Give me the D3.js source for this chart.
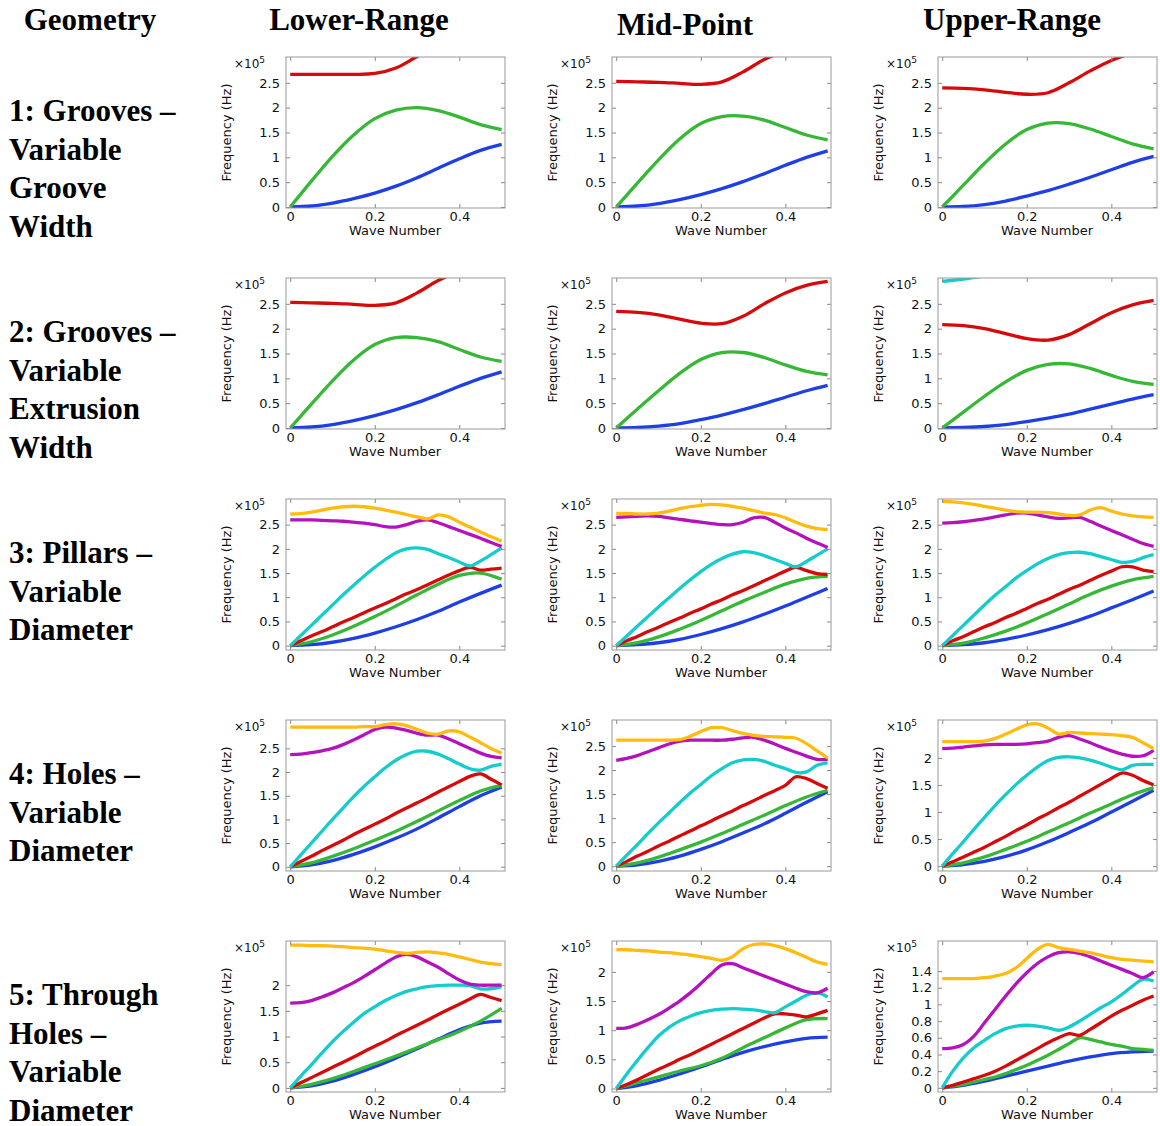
<!DOCTYPE html>
<html>
<head>
<meta charset="utf-8">
<title>Band diagrams</title>
<script src="https://cdn.jsdelivr.net/npm/d3@7"></script>
<style>
  body { margin: 0; background: #fff; }
  .head { font-family: "Liberation Serif", "Times New Roman", serif; font-weight: bold; font-size: 31px; fill: #000; }
  .tick text, .lab { font-family: "DejaVu Sans", sans-serif; fill: #111; }
</style>
</head>
<body>
<svg id="chart" width="1160" height="1126"></svg>
<script>
// wave number samples: coarse grid (11 values) and fine grid (21 values)
var waveNumber = [0, 0.05, 0.1, 0.15, 0.2, 0.25, 0.3, 0.35, 0.4, 0.45, 0.5]
var waveNumberFine = [0, 0.025, 0.05, 0.075, 0.1, 0.125, 0.15, 0.175, 0.2, 0.225, 0.25,
  0.275, 0.3, 0.325, 0.35, 0.375, 0.4, 0.425, 0.45, 0.475, 0.5]

var columnTitles = ["Lower-Range", "Mid-Point", "Upper-Range"]
var rowTitles = [
  ["1: Grooves –", "Variable", "Groove", "Width"],
  ["2: Grooves –", "Variable", "Extrusion", "Width"],
  ["3: Pillars –", "Variable", "Diameter"],
  ["4: Holes –", "Variable", "Diameter"],
  ["5: Through", "Holes –", "Variable", "Diameter"]
]

// frequencies in units of 1e5 Hz
var grooveWidthLower = {
  blue:  [0, 0.02, 0.08, 0.17, 0.28, 0.42, 0.59, 0.78, 0.97, 1.14, 1.26],
  green: [0, 0.52, 1.02, 1.45, 1.78, 1.95, 2.0, 1.94, 1.81, 1.66, 1.56],
  red:   [2.67, 2.67, 2.67, 2.67, 2.69, 2.8, 3.03, 3.25, 3.45, 3.6, 3.7]
}
var grooveWidthMid = {
  blue:  [0, 0.02, 0.07, 0.15, 0.25, 0.37, 0.51, 0.67, 0.84, 1.0, 1.13],
  green: [0, 0.48, 0.95, 1.37, 1.68, 1.82, 1.83, 1.75, 1.6, 1.45, 1.35],
  red:   [2.53, 2.52, 2.51, 2.49, 2.47, 2.52, 2.72, 2.97, 3.15, 3.3, 3.4]
}
var grooveWidthUpper = {
  blue:  [0, 0.01, 0.05, 0.12, 0.22, 0.33, 0.46, 0.6, 0.75, 0.9, 1.02],
  green: [0, 0.44, 0.88, 1.27, 1.56, 1.69, 1.68, 1.57, 1.42, 1.27, 1.17],
  red:   [2.4, 2.39, 2.36, 2.31, 2.27, 2.3, 2.5, 2.74, 2.95, 3.1, 3.2]
}
var extrusionLower = {
  blue:  [0, 0.02, 0.07, 0.15, 0.25, 0.37, 0.51, 0.67, 0.84, 1.0, 1.13],
  green: [0, 0.48, 0.95, 1.37, 1.68, 1.82, 1.82, 1.74, 1.58, 1.43, 1.34],
  red:   [2.53, 2.52, 2.51, 2.49, 2.47, 2.52, 2.72, 2.97, 3.15, 3.3, 3.4]
}
var extrusionMid = {
  blue:  [0, 0.01, 0.04, 0.09, 0.17, 0.26, 0.37, 0.49, 0.62, 0.75, 0.86],
  green: [0, 0.38, 0.75, 1.1, 1.38, 1.52, 1.52, 1.42, 1.27, 1.14, 1.07],
  red:   [2.35, 2.33, 2.28, 2.19, 2.11, 2.1, 2.25, 2.5, 2.72, 2.87, 2.95]
}
var extrusionUpper = {
  blue:  [0, 0.01, 0.03, 0.07, 0.13, 0.2, 0.28, 0.38, 0.48, 0.58, 0.67],
  green: [0, 0.32, 0.64, 0.93, 1.16, 1.28, 1.29, 1.2, 1.06, 0.94, 0.88],
  red:   [2.08, 2.06, 2.0, 1.9, 1.8, 1.77, 1.88, 2.1, 2.32, 2.48, 2.57],
  cyan:  [2.95, 3.0, 3.06]
}
var pillarsLower = {
  blue:    [0, 0.02, 0.07, 0.15, 0.26, 0.39, 0.54, 0.71, 0.9, 1.08, 1.25],
  green:   [0, 0.08, 0.22, 0.4, 0.6, 0.82, 1.05, 1.27, 1.45, 1.5, 1.37],
  red:     [0, 0.1, 0.2, 0.29, 0.39, 0.49, 0.58, 0.68, 0.78, 0.87, 0.97, 1.07, 1.16, 1.26, 1.36, 1.46, 1.55, 1.62, 1.56, 1.58, 1.6],
  cyan:    [0, 0.21, 0.42, 0.63, 0.84, 1.05, 1.25, 1.44, 1.62, 1.78, 1.92, 2.0, 2.02, 1.99, 1.9, 1.82, 1.73, 1.65, 1.75, 1.88, 2.02],
  magenta: [2.6, 2.6, 2.6, 2.59, 2.58, 2.57, 2.55, 2.53, 2.5, 2.46, 2.45, 2.5, 2.57, 2.6, 2.54, 2.46, 2.38, 2.3, 2.22, 2.13, 2.05],
  yellow:  [2.72, 2.73, 2.76, 2.8, 2.84, 2.87, 2.88, 2.87, 2.84, 2.8, 2.76, 2.71, 2.66, 2.62, 2.7, 2.66, 2.55, 2.45, 2.35, 2.25, 2.16]
}
var pillarsMid = {
  blue:    [0, 0.02, 0.06, 0.13, 0.23, 0.35, 0.49, 0.65, 0.82, 1.0, 1.18],
  green:   [0, 0.06, 0.18, 0.34, 0.52, 0.72, 0.92, 1.1, 1.27, 1.39, 1.43],
  red:     [0, 0.1, 0.19, 0.29, 0.38, 0.48, 0.57, 0.67, 0.76, 0.86, 0.95, 1.05, 1.14, 1.24, 1.34, 1.44, 1.54, 1.62, 1.55, 1.49, 1.47],
  cyan:    [0, 0.2, 0.4, 0.6, 0.8, 0.99, 1.18, 1.36, 1.53, 1.68, 1.8, 1.89, 1.94, 1.92, 1.86, 1.78, 1.7, 1.63, 1.74, 1.87, 2.0],
  magenta: [2.65, 2.66, 2.67, 2.68, 2.67, 2.64, 2.61, 2.58, 2.55, 2.52, 2.5, 2.5, 2.55, 2.64, 2.65, 2.55, 2.43, 2.33, 2.22, 2.12, 2.03],
  yellow:  [2.73, 2.73, 2.72, 2.72, 2.74, 2.78, 2.83, 2.87, 2.9, 2.92, 2.91, 2.88, 2.84, 2.79, 2.74, 2.71, 2.64, 2.55, 2.47, 2.42, 2.4]
}
var pillarsUpper = {
  blue:    [0, 0.02, 0.06, 0.13, 0.22, 0.33, 0.46, 0.61, 0.78, 0.95, 1.13],
  green:   [0, 0.05, 0.16, 0.3, 0.47, 0.66, 0.86, 1.06, 1.23, 1.36, 1.43],
  red:     [0, 0.1, 0.19, 0.29, 0.39, 0.48, 0.58, 0.67, 0.77, 0.87, 0.96, 1.06, 1.16, 1.25, 1.35, 1.45, 1.54, 1.63, 1.63, 1.56, 1.53],
  cyan:    [0, 0.21, 0.42, 0.63, 0.84, 1.04, 1.22, 1.4, 1.55, 1.69, 1.8, 1.88, 1.92, 1.93, 1.9, 1.84, 1.78, 1.72, 1.74, 1.82, 1.88],
  magenta: [2.53, 2.54, 2.56, 2.59, 2.62, 2.66, 2.7, 2.74, 2.74, 2.7, 2.66, 2.63, 2.64, 2.65, 2.57, 2.47, 2.38, 2.29, 2.2, 2.11, 2.05],
  yellow:  [2.98, 2.97, 2.95, 2.92, 2.88, 2.84, 2.8, 2.77, 2.76, 2.76, 2.75, 2.72, 2.69, 2.7, 2.8, 2.85, 2.78, 2.72, 2.68, 2.66, 2.65]
}
var holesLower = {
  blue:    [0, 0.04, 0.13, 0.26, 0.42, 0.6, 0.8, 1.03, 1.27, 1.5, 1.68],
  green:   [0, 0.08, 0.22, 0.38, 0.56, 0.75, 0.96, 1.18, 1.4, 1.6, 1.72],
  red:     [0, 0.11, 0.22, 0.34, 0.45, 0.56, 0.68, 0.79, 0.9, 1.01, 1.13, 1.24, 1.35, 1.46, 1.58, 1.69, 1.8, 1.91, 1.96, 1.85, 1.73],
  cyan:    [0, 0.25, 0.5, 0.75, 1.0, 1.24, 1.48, 1.7, 1.9, 2.09, 2.25, 2.37, 2.44, 2.44, 2.38, 2.28, 2.17, 2.07, 2.04, 2.12, 2.17],
  magenta: [2.37, 2.38, 2.41, 2.45, 2.5, 2.58, 2.68, 2.79, 2.9, 2.95, 2.93, 2.88, 2.82, 2.78, 2.78, 2.7, 2.6, 2.5, 2.4, 2.33, 2.3],
  yellow:  [2.95, 2.95, 2.95, 2.95, 2.95, 2.95, 2.95, 2.96, 2.96, 3.0, 3.02, 2.98, 2.9, 2.82, 2.8, 2.87, 2.85, 2.74, 2.62, 2.5, 2.4]
}
var holesMid = {
  blue:    [0, 0.03, 0.1, 0.21, 0.35, 0.51, 0.69, 0.88, 1.1, 1.33, 1.55],
  green:   [0, 0.07, 0.19, 0.34, 0.5, 0.68, 0.87, 1.06, 1.26, 1.44, 1.58],
  red:     [0, 0.1, 0.21, 0.31, 0.42, 0.52, 0.63, 0.73, 0.84, 0.94, 1.05, 1.15, 1.26, 1.36, 1.47, 1.57, 1.68, 1.86, 1.82, 1.72, 1.62],
  cyan:    [0, 0.23, 0.45, 0.68, 0.9, 1.11, 1.32, 1.52, 1.7, 1.88, 2.03, 2.15, 2.21, 2.22, 2.18, 2.1, 2.03, 1.95, 1.96, 2.1, 2.15],
  magenta: [2.2, 2.24, 2.3, 2.38, 2.46, 2.54, 2.6, 2.62, 2.62, 2.62, 2.62, 2.64, 2.67, 2.68, 2.62, 2.54, 2.45, 2.37, 2.29, 2.22, 2.22],
  yellow:  [2.62, 2.62, 2.62, 2.62, 2.62, 2.62, 2.63, 2.7, 2.8, 2.88, 2.88, 2.82, 2.76, 2.72, 2.7, 2.69, 2.68, 2.66, 2.55, 2.4, 2.25]
}
var holesUpper = {
  blue:    [0, 0.03, 0.09, 0.18, 0.3, 0.45, 0.62, 0.8, 1.0, 1.2, 1.4],
  green:   [0, 0.06, 0.17, 0.31, 0.46, 0.63, 0.8, 0.98, 1.15, 1.32, 1.45],
  red:     [0, 0.08, 0.17, 0.26, 0.35, 0.45, 0.55, 0.66, 0.76, 0.87, 0.97, 1.08, 1.18, 1.29, 1.4, 1.51, 1.62, 1.72, 1.68, 1.58, 1.5],
  cyan:    [0, 0.23, 0.45, 0.68, 0.9, 1.12, 1.32, 1.51, 1.68, 1.83, 1.95, 2.01, 2.02, 2.0, 1.96, 1.9, 1.83, 1.78, 1.86, 1.88, 1.88],
  magenta: [2.17, 2.18, 2.2, 2.22, 2.24, 2.25, 2.25, 2.25, 2.26, 2.28, 2.31, 2.38, 2.41, 2.35, 2.28, 2.2, 2.13, 2.07, 2.03, 2.04, 2.14],
  yellow:  [2.3, 2.3, 2.3, 2.3, 2.31, 2.36, 2.44, 2.53, 2.61, 2.63, 2.55, 2.44, 2.47, 2.46, 2.45, 2.44, 2.43, 2.41, 2.38, 2.28, 2.17]
}
var throughLower = {
  blue:    [0, 0.04, 0.13, 0.26, 0.41, 0.58, 0.76, 0.95, 1.13, 1.26, 1.3],
  green:   [0, 0.07, 0.18, 0.32, 0.47, 0.62, 0.78, 0.94, 1.1, 1.3, 1.55],
  red:     [0, 0.1, 0.2, 0.3, 0.4, 0.5, 0.6, 0.71, 0.81, 0.91, 1.02, 1.12, 1.22, 1.32, 1.43, 1.53, 1.63, 1.73, 1.82, 1.76, 1.7],
  cyan:    [0, 0.23, 0.45, 0.68, 0.9, 1.1, 1.28, 1.45, 1.58, 1.7, 1.8, 1.88, 1.93, 1.97, 1.99, 2.0, 2.0, 1.99, 1.93, 1.93, 1.97],
  magenta: [1.65, 1.66, 1.7, 1.77, 1.85, 1.95, 2.05, 2.17, 2.3, 2.43, 2.55, 2.6, 2.55, 2.45, 2.35, 2.22, 2.1, 2.02, 2.0, 2.0, 2.0],
  yellow:  [2.78, 2.78, 2.77, 2.77, 2.76, 2.75, 2.73, 2.72, 2.7, 2.67, 2.64, 2.62, 2.64, 2.65, 2.63, 2.6, 2.55, 2.5, 2.45, 2.42, 2.4]
}
var throughMid = {
  blue:    [0, 0.05, 0.14, 0.25, 0.37, 0.5, 0.62, 0.72, 0.8, 0.86, 0.88],
  green:   [0, 0.1, 0.2, 0.3, 0.39, 0.52, 0.7, 0.87, 1.04, 1.18, 1.2],
  red:     [0, 0.07, 0.15, 0.24, 0.33, 0.41, 0.5, 0.58, 0.67, 0.76, 0.85, 0.94, 1.03, 1.12, 1.21, 1.28, 1.28, 1.26, 1.23, 1.28, 1.34],
  cyan:    [0, 0.25, 0.48, 0.7, 0.9, 1.05, 1.16, 1.24, 1.3, 1.34, 1.36, 1.37, 1.36, 1.35, 1.32, 1.3, 1.4, 1.5, 1.6, 1.64, 1.57],
  magenta: [1.03, 1.04, 1.1, 1.18, 1.27, 1.38, 1.5, 1.64, 1.8, 1.97, 2.12, 2.14, 2.07, 2.0, 1.93, 1.86, 1.79, 1.72, 1.66, 1.64, 1.72],
  yellow:  [2.38, 2.38, 2.37, 2.36, 2.34, 2.33, 2.31, 2.29, 2.26, 2.23, 2.2, 2.26, 2.4, 2.47, 2.48, 2.45, 2.4, 2.33, 2.25, 2.17, 2.13]
}
var throughUpper = {
  blue:    [0, 0.03, 0.08, 0.14, 0.2, 0.26, 0.32, 0.37, 0.41, 0.43, 0.44],
  green:   [0, 0.02, 0.04, 0.07, 0.1, 0.13, 0.17, 0.22, 0.27, 0.33, 0.39, 0.46, 0.53, 0.6, 0.58, 0.55, 0.52, 0.5, 0.47, 0.46, 0.45],
  red:     [0, 0.03, 0.07, 0.11, 0.15, 0.2, 0.26, 0.33, 0.4, 0.47, 0.54, 0.6, 0.65, 0.63, 0.7, 0.78, 0.86, 0.93, 0.99, 1.05, 1.1],
  cyan:    [0, 0.2, 0.36, 0.48, 0.57, 0.65, 0.71, 0.74, 0.75, 0.74, 0.72, 0.69, 0.73, 0.8, 0.88, 0.96, 1.03, 1.12, 1.22, 1.3, 1.28],
  magenta: [0.47, 0.48, 0.52, 0.62, 0.78, 0.94, 1.1, 1.25, 1.38, 1.49, 1.57, 1.62, 1.63, 1.61, 1.57, 1.52, 1.47, 1.42, 1.37, 1.32, 1.39],
  yellow:  [1.31, 1.31, 1.31, 1.31, 1.32, 1.34, 1.37, 1.44, 1.55, 1.66, 1.72, 1.68, 1.66, 1.64, 1.62, 1.59, 1.56, 1.54, 1.53, 1.52, 1.51]
}

var panels = [
  [grooveWidthLower, grooveWidthMid, grooveWidthUpper],
  [extrusionLower, extrusionMid, extrusionUpper],
  [pillarsLower, pillarsMid, pillarsUpper],
  [holesLower, holesMid, holesUpper],
  [throughLower, throughMid, throughUpper]
]

// y limits of each panel (x1e5 Hz)
var yLimits = [
  [[-0.02, 3.02], [-0.02, 3.02], [-0.02, 3.02]],
  [[-0.02, 3.02], [-0.02, 3.02], [-0.02, 3.02]],
  [[-0.09, 3.03], [-0.09, 3.03], [-0.09, 3.03]],
  [[-0.09, 3.1], [-0.1, 3.04], [-0.09, 2.7]],
  [[-0.08, 2.86], [-0.06, 2.53], [-0.05, 1.76]]
]
var ticksHalf = [0, 0.5, 1, 1.5, 2, 2.5]
var ticksTwo = [0, 0.5, 1, 1.5, 2]
var ticksFine = [0, 0.2, 0.4, 0.6, 0.8, 1, 1.2, 1.4]
var yTicks = [
  [ticksHalf, ticksHalf, ticksHalf],
  [ticksHalf, ticksHalf, ticksHalf],
  [ticksHalf, ticksHalf, ticksHalf],
  [ticksHalf, ticksHalf, ticksTwo],
  [ticksTwo, ticksTwo, ticksFine]
]
var xTicks = [0, 0.2, 0.4]

var bandOrder = ["blue", "green", "red", "cyan", "magenta", "yellow"]
var bandColor = {
  blue: "#1e3fe6", green: "#36b836", red: "#d60a0a",
  cyan: "#14cccc", magenta: "#b512bd", yellow: "#ffbb10"
}

var svg = d3.select("#chart")
var colLeft = [286, 612, 938]
var plotW = 219, plotH = 151
function rowTop(r) { return 57 + r * 221 }

// header
svg.append("text").attr("class", "head").attr("x", 90).attr("y", 30)
  .attr("text-anchor", "middle").text("Geometry")
var headX = [359, 685, 1012], headY = [30, 35, 30]
columnTitles.forEach(function (t, i) {
  svg.append("text").attr("class", "head").attr("x", headX[i]).attr("y", headY[i])
    .attr("text-anchor", "middle").text(t)
})

// row labels
rowTitles.forEach(function (lines, r) {
  lines.forEach(function (t, k) {
    svg.append("text").attr("class", "head").attr("x", 9)
      .attr("y", 121 + r * 221 + k * 38.5).text(t)
  })
})

var fmt = d3.format("~g")

panels.forEach(function (row, r) {
  row.forEach(function (bands, c) {
    var left = colLeft[c], top = rowTop(r)
    var x = d3.scaleLinear().domain([-0.01, 0.508]).range([left, left + plotW])
    var y = d3.scaleLinear().domain(yLimits[r][c]).range([top + plotH, top])
    var g = svg.append("g")
    var clipId = "clip" + r + c
    g.append("clipPath").attr("id", clipId).append("rect")
      .attr("x", left).attr("y", top).attr("width", plotW).attr("height", plotH)

    var lines = g.append("g").attr("clip-path", "url(#" + clipId + ")")
    var line = d3.line()
      .x(function (d, i, data) {
        var xs = data.length === waveNumberFine.length ? waveNumberFine : waveNumber
        return x(xs[i])
      })
      .y(function (d) { return y(d) })
      .curve(d3.curveCatmullRom.alpha(0.5))
    bandOrder.forEach(function (name) {
      if (!bands[name]) return
      lines.append("path").datum(bands[name])
        .attr("fill", "none").attr("stroke", bandColor[name])
        .attr("stroke-width", 3.3).attr("stroke-linejoin", "round")
        .attr("d", line)
    })

    // axes with inward ticks
    var ax = g.append("g").attr("transform", "translate(" + left + ",0)")
      .call(d3.axisLeft(y).tickValues(yTicks[r][c]).tickSize(-4).tickPadding(6).tickFormat(fmt))
    var axr = g.append("g").attr("transform", "translate(" + (left + plotW) + ",0)")
      .call(d3.axisRight(y).tickValues(yTicks[r][c]).tickSize(-4).tickFormat(""))
    var axb = g.append("g").attr("transform", "translate(0," + (top + plotH) + ")")
      .call(d3.axisBottom(x).tickValues(xTicks).tickSize(-4).tickPadding(4).tickFormat(fmt))
    var axt = g.append("g").attr("transform", "translate(0," + top + ")")
      .call(d3.axisTop(x).tickValues(xTicks).tickSize(-4).tickFormat(""))
    ;[ax, axr, axb, axt].forEach(function (a) {
      a.select(".domain").remove()
      a.selectAll(".tick line").attr("stroke", "#888")
      a.selectAll(".tick text").attr("font-size", 13)
    })

    g.append("rect").attr("x", left).attr("y", top).attr("width", plotW).attr("height", plotH)
      .attr("fill", "none").attr("stroke", "#999").attr("stroke-width", 1)

    g.append("text").attr("class", "lab").attr("font-size", 13)
      .attr("x", left + plotW / 2 - 0.5).attr("y", top + plotH + 26.5)
      .attr("text-anchor", "middle").text("Wave Number")
    g.append("text").attr("class", "lab").attr("font-size", 13)
      .attr("transform", "translate(" + (left - 55) + "," + (top + plotH / 2) + ") rotate(-90)")
      .attr("text-anchor", "middle").text("Frequency (Hz)")
    var m = g.append("text").attr("class", "lab").attr("font-size", 12)
      .attr("x", left - 52).attr("y", top + 11)
    m.append("tspan").text("×10")
    m.append("tspan").attr("font-size", 9).attr("dy", -5).text("5")
  })
})
</script>
</body>
</html>
